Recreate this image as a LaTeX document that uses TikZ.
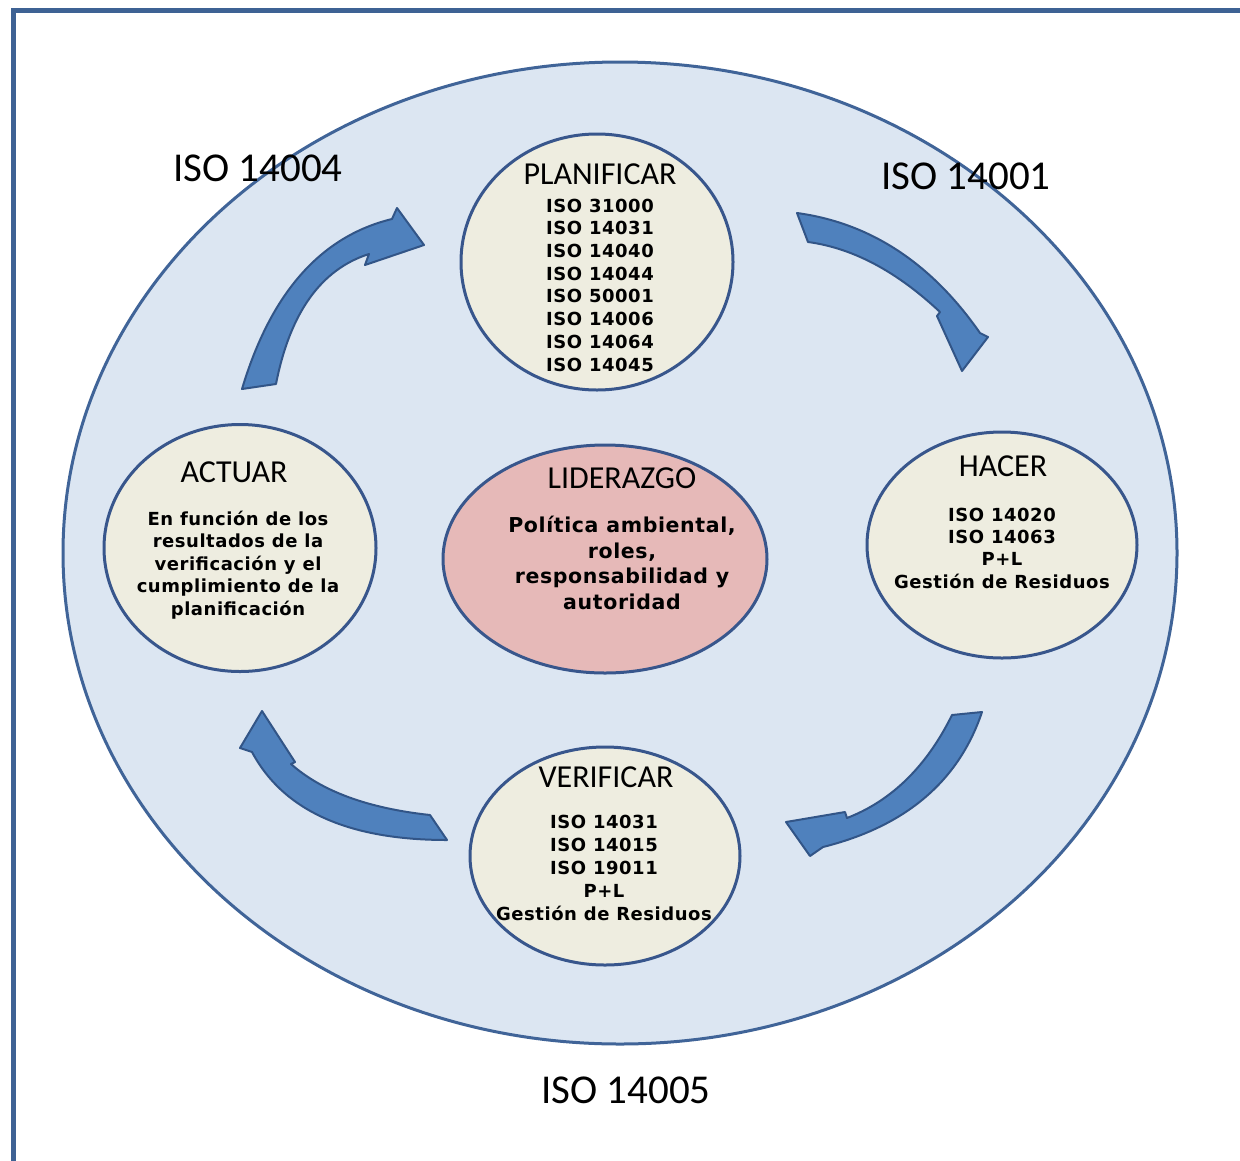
\documentclass[tikz,border=0pt]{standalone}
\usepackage{fontspec}
\setmainfont{Carlito}
\newfontfamily\verd{DejaVu Sans}[LetterSpace=3]
\usetikzlibrary{shapes.geometric}
\definecolor{frame}{RGB}{62,98,148}
\definecolor{bigfill}{RGB}{220,230,242}
\definecolor{bigedge}{RGB}{64,100,152}
\definecolor{beige}{RGB}{238,237,224}
\definecolor{circedge}{RGB}{56,86,140}
\definecolor{pinkfill}{RGB}{230,185,184}
\definecolor{arrowfill}{RGB}{79,129,189}
\definecolor{arrowedge}{RGB}{50,85,135}
\tikzset{
  phase/.style={ellipse, draw=circedge, line width=3, fill=beige, inner sep=0},
  ptitle/.style={font=\fontsize{32}{32}\selectfont, inner sep=0},
  pbody/.style={align=center, inner sep=0, font=\verd\bfseries\fontsize{18}{22.7}\selectfont},
  isolabel/.style={font=\fontsize{41}{41}\selectfont, inner sep=0},
  blockarrow/.style={fill=arrowfill, draw=arrowedge, line width=2, line join=round}
}
\begin{document}
\begin{tikzpicture}[x=1pt,y=-1pt]
\useasboundingbox (0,0) rectangle (1240,1160);
\fill[white] (0,0) rectangle (1240,1160);
% frame (top and left edges)
\draw[frame, line width=5] (13,1170) -- (13,10) -- (1250,10);
% big ellipse
\draw[fill=bigfill, draw=bigedge, line width=3] (620,553) ellipse [x radius=557, y radius=491];
% outer labels
\node[isolabel] (l4004) at (258,168) {ISO 14004};
\node[isolabel] (l4001) at (966,176) {ISO 14001};
\node[isolabel] (l4005) at (626,1090) {ISO 14005};
% block arrows
\draw[blockarrow] (242,389) .. controls (270.7,293) and (320.7,236.3) .. (392,219) -- (397,208) -- (424,245)
  -- (365,265) -- (369,254) .. controls (321,269.3) and (290,312.7) .. (276,384) -- cycle;
\draw[blockarrow] (797,213) .. controls (870.3,223) and (931.3,263) .. (980,333) -- (988,337) -- (962,371)
  -- (937,316) -- (940,312) .. controls (896.7,271.3) and (852.7,248) .. (808,242) -- cycle;
\draw[blockarrow] (982,712) .. controls (958.7,781.3) and (905.7,826.3) .. (823,847) -- (810,856) -- (786,822)
  -- (845,812) -- (847,818) .. controls (891.7,800.7) and (926.7,766.3) .. (952,715) -- cycle;
\draw[blockarrow] (447,840) .. controls (348.3,840) and (283.3,810.7) .. (252,752) -- (240,748) -- (262,711)
  -- (295,762) -- (291,764) .. controls (321.7,791.3) and (368,808.3) .. (430,815) -- cycle;
% phase circles
\node[phase, minimum width=272, minimum height=256] (plan) at (597,262) {};
\node[phase, minimum width=272, minimum height=247] (act) at (240,548) {};
\node[phase, minimum width=270, minimum height=226] (do) at (1002,545) {};
\node[phase, minimum width=270, minimum height=218] (check) at (605,856) {};
\node[ellipse, draw=circedge, line width=3, fill=pinkfill, inner sep=0,
      minimum width=324, minimum height=228] (lead) at (605,559) {};
% texts
\node[ptitle] (tplan) at (600,174) {PLANIFICAR};
\node[pbody] (bplan) at (600,285) {ISO 31000\\ISO 14031\\ISO 14040\\ISO 14044\\ISO 50001\\ISO 14006\\ISO 14064\\ISO 14045};
\node[ptitle] (tact) at (234,472) {ACTUAR};
\node[pbody, font=\verd\bfseries\fontsize{18}{22.5}\selectfont] (bact) at (238,565) {En función de los\\resultados de la\\verificación y el\\cumplimiento de la\\planificación};
\node[ptitle] (tdo) at (1003,466) {HACER};
\node[pbody, font=\verd\bfseries\fontsize{18}{22.3}\selectfont] (bdo) at (1002,548) {ISO 14020\\ISO 14063\\P+L\\Gestión de Residuos};
\node[ptitle] (tcheck) at (606,777) {VERIFICAR};
\node[pbody, font=\verd\bfseries\fontsize{18}{23}\selectfont] (bcheck) at (604,868) {ISO 14031\\ISO 14015\\ISO 19011\\P+L\\Gestión de Residuos};
\node[ptitle] (tlead) at (622,478) {LIDERAZGO};
\node[pbody, font=\verd\bfseries\fontsize{20.5}{25.5}\selectfont] (blead) at (622,563) {Política ambiental,\\roles,\\responsabilidad y\\autoridad};
\end{tikzpicture}
\end{document}
